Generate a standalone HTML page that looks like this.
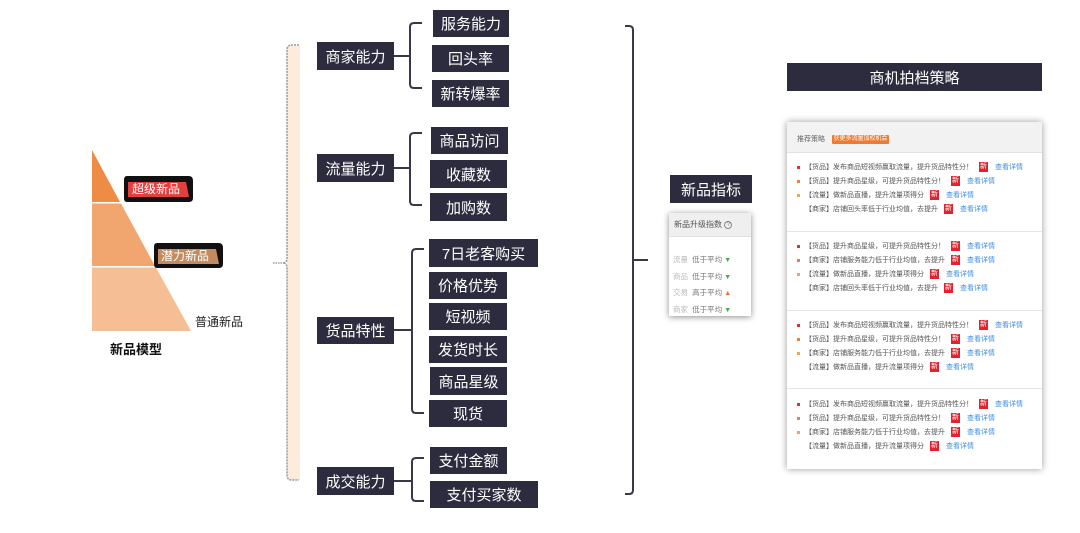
<!DOCTYPE html>
<html><head><meta charset="utf-8">
<style>
*{margin:0;padding:0;box-sizing:border-box}
body{width:1080px;height:533px;background:#fff;position:relative;overflow:hidden;font-family:"Liberation Sans","Noto Sans CJK SC",sans-serif}
.b{position:absolute;background:#2d2b3e;color:#fff;font-size:15px;display:flex;align-items:center;justify-content:center;white-space:nowrap;letter-spacing:0}
.t{position:absolute;white-space:nowrap}
.row{position:absolute;left:797px;height:12px;font-size:7px;color:#555;display:flex;align-items:center;white-space:nowrap}
.row .dot{width:3px;height:3px;margin-right:5px}
.row .nb{display:inline-block;width:9px;height:10px;background:#e3222d;color:#fff;font-size:7px;line-height:10px;text-align:center;margin:0 7px 0 6px}
.row .lk{color:#3d8ee6}
.div{position:absolute;left:787px;width:255px;height:1px;background:#e4e4e4}
</style></head><body>
<svg width="1080" height="533" style="position:absolute;left:0;top:0">
  <!-- pyramid -->
  <polygon points="92,150 120,202 92,202" fill="#ee8b45"/>
  <polygon points="92,203.5 121,203.5 155,266 92,266" fill="#f1a66f"/>
  <polygon points="92,267.5 156,267.5 191,331 92,331" fill="#f6be95"/>
  <!-- badge 1 -->
  <path d="M127,176 H189 Q193,176 193,181 V198 Q193,202 189,202 H127 Q124,202 124,198 V180 Q124,176 127,176 Z" fill="#111"/>
  <polygon points="128,182 186,182 189,197 128,197" fill="#e2403c"/>
  <!-- badge 2 -->
  <path d="M157,243 H219 Q223,243 223,248 V264 Q223,268 219,268 H157 Q154,268 154,264 V247 Q154,243 157,243 Z" fill="#111"/>
  <polygon points="158,249 216,249 219,264 158,264" fill="#c48c5c"/>
  <!-- root bracket -->
  <rect x="287" y="46" width="13" height="434" fill="#fdebdc"/>
  <path d="M299,45 H292 Q287,45 287,50 V258 Q287,263 283,263 Q287,263 287,268 V475 Q287,480 292,480 H299" fill="none" stroke="#9a9a9a" stroke-width="1.5" stroke-dasharray="2,1"/>
  <line x1="273" y1="263" x2="284" y2="263" stroke="#888" stroke-width="1.3" stroke-dasharray="1.5,1"/>
  <!-- sub brackets -->
  <g fill="none" stroke="#3a3848" stroke-width="2">
    <line x1="394" y1="56" x2="410" y2="56"/>
    <path d="M422,23 H414 Q410,23 410,27 V84 Q410,88 414,88 H422"/>
    <line x1="394" y1="168" x2="410" y2="168"/>
    <path d="M422,133 H414 Q410,133 410,137 V201 Q410,205 414,205 H422"/>
    <line x1="394" y1="330" x2="412" y2="330"/>
    <path d="M424,249 H416 Q412,249 412,253 V409 Q412,413 416,413 H424"/>
    <line x1="394" y1="481" x2="412" y2="481"/>
    <path d="M424,458 H416 Q412,458 412,462 V497 Q412,501 416,501 H424"/>
    <path d="M625,26 H629 Q633,26 633,30 V490 Q633,494 629,494 H625"/>
    <line x1="633" y1="260" x2="648" y2="260"/>
  </g>
</svg>

<div class="t" style="left:132px;top:181px;font-size:12px;color:#fff;line-height:16px">超级新品</div>
<div class="t" style="left:161px;top:248px;font-size:12px;color:#fff;line-height:16px">潜力新品</div>
<div class="t" style="left:195px;top:315px;font-size:12px;color:#222;line-height:14px">普通新品</div>
<div class="t" style="left:110px;top:342px;font-size:13px;font-weight:bold;color:#111;line-height:16px">新品模型</div>

<div class="b" style="left:317px;top:42px;width:77px;height:28px">商家能力</div>
<div class="b" style="left:317px;top:154px;width:77px;height:28px">流量能力</div>
<div class="b" style="left:317px;top:317px;width:77px;height:27px">货品特性</div>
<div class="b" style="left:317px;top:467px;width:77px;height:28px">成交能力</div>

<div class="b" style="left:433px;top:10px;width:76px;height:27px">服务能力</div>
<div class="b" style="left:432px;top:45px;width:77px;height:27px">回头率</div>
<div class="b" style="left:432px;top:80px;width:77px;height:27px">新转爆率</div>
<div class="b" style="left:431px;top:127px;width:77px;height:27px">商品访问</div>
<div class="b" style="left:430px;top:160px;width:77px;height:28px">收藏数</div>
<div class="b" style="left:430px;top:193px;width:77px;height:28px">加购数</div>
<div class="b" style="left:429px;top:239px;width:109px;height:28px">7日老客购买</div>
<div class="b" style="left:429px;top:272px;width:78px;height:27px">价格优势</div>
<div class="b" style="left:429px;top:303px;width:78px;height:27px">短视频</div>
<div class="b" style="left:429px;top:336px;width:78px;height:27px">发货时长</div>
<div class="b" style="left:430px;top:367px;width:77px;height:28px">商品星级</div>
<div class="b" style="left:429px;top:400px;width:78px;height:27px">现货</div>
<div class="b" style="left:430px;top:447px;width:77px;height:27px">支付金额</div>
<div class="b" style="left:430px;top:481px;width:108px;height:27px">支付买家数</div>

<div class="b" style="left:670px;top:175px;width:82px;height:28px">新品指标</div>
<div style="position:absolute;left:669px;top:213px;width:82px;height:103px;background:#fff;box-shadow:0 1px 6px rgba(0,0,0,.45)">
  <div style="height:24px;background:#efefef;border-bottom:1px solid #e2e2e2;font-size:8px;color:#555;padding-left:5px;line-height:24px;white-space:nowrap">新品升级指数 <span style="display:inline-block;width:8px;height:8px;border:1px solid #888;border-radius:50%;font-size:6px;line-height:6px;text-align:center;vertical-align:middle;color:#777">?</span></div>
  <div style="position:absolute;left:4px;top:39px;font-size:7.5px;line-height:15.5px;white-space:nowrap">
    <div><span style="color:#bbb">流量</span>&nbsp; <span style="color:#777">低于平均</span> <span style="color:#3bb043;font-size:7px">▼</span></div>
    <div><span style="color:#bbb">商品</span>&nbsp; <span style="color:#777">低于平均</span> <span style="color:#3bb043;font-size:7px">▼</span></div>
    <div><span style="color:#bbb">交易</span>&nbsp; <span style="color:#777">高于平均</span> <span style="color:#f07038;font-size:7px">▲</span></div>
    <div><span style="color:#bbb">商家</span>&nbsp; <span style="color:#777">低于平均</span> <span style="color:#3bb043;font-size:7px">▼</span></div>
  </div>
</div>

<div class="b" style="left:787px;top:63px;width:255px;height:28px">商机拍档策略</div>
<div style="position:absolute;left:787px;top:122px;width:255px;height:347px;background:#fff;box-shadow:0 0 7px rgba(0,0,0,.4)">
  <div style="height:31px;background:#f2f2f2;border-bottom:1px solid #e2e2e2;position:relative">
    <span style="position:absolute;left:10px;top:12px;font-size:7px;color:#666;white-space:nowrap">推荐策略</span>
    <span style="position:absolute;left:45px;top:13px;width:57px;height:9px;background:#f07a30;color:#fff;font-size:6px;line-height:9px;text-align:center;white-space:nowrap;border-radius:1px">获更多流量加权机会</span>
  </div>
</div>
<div class="div" style="top:231px"></div>
<div class="div" style="top:310px"></div>
<div class="div" style="top:388px"></div>

<!-- section 1 -->
<div class="row" style="top:161px"><span class="dot" style="background:#e03030"></span>【货品】发布商品短视频赢取流量，提升货品特性分！<span class="nb">新</span><span class="lk">查看详情</span></div>
<div class="row" style="top:175px"><span class="dot" style="background:#f07d3c"></span>【货品】提升商品星级，可提升货品特性分！<span class="nb">新</span><span class="lk">查看详情</span></div>
<div class="row" style="top:189px"><span class="dot" style="background:#f2a452"></span>【流量】做新品直播，提升流量项得分<span class="nb">新</span><span class="lk">查看详情</span></div>
<div class="row" style="top:203px"><span class="dot"></span>【商家】店铺回头率低于行业均值，去提升<span class="nb">新</span><span class="lk">查看详情</span></div>
<!-- section 2 -->
<div class="row" style="top:240px"><span class="dot" style="background:#e03030"></span>【货品】提升商品星级，可提升货品特性分！<span class="nb">新</span><span class="lk">查看详情</span></div>
<div class="row" style="top:254px"><span class="dot" style="background:#f07d3c"></span>【商家】店铺服务能力低于行业均值，去提升<span class="nb">新</span><span class="lk">查看详情</span></div>
<div class="row" style="top:268px"><span class="dot" style="background:#f2a452"></span>【流量】做新品直播，提升流量项得分<span class="nb">新</span><span class="lk">查看详情</span></div>
<div class="row" style="top:282px"><span class="dot"></span>【商家】店铺回头率低于行业均值，去提升<span class="nb">新</span><span class="lk">查看详情</span></div>
<!-- section 3 -->
<div class="row" style="top:319px"><span class="dot" style="background:#e03030"></span>【货品】发布商品短视频赢取流量，提升货品特性分！<span class="nb">新</span><span class="lk">查看详情</span></div>
<div class="row" style="top:333px"><span class="dot" style="background:#f07d3c"></span>【货品】提升商品星级，可提升货品特性分！<span class="nb">新</span><span class="lk">查看详情</span></div>
<div class="row" style="top:347px"><span class="dot" style="background:#f2a452"></span>【商家】店铺服务能力低于行业均值，去提升<span class="nb">新</span><span class="lk">查看详情</span></div>
<div class="row" style="top:361px"><span class="dot"></span>【流量】做新品直播，提升流量项得分<span class="nb">新</span><span class="lk">查看详情</span></div>
<!-- section 4 -->
<div class="row" style="top:398px"><span class="dot" style="background:#e03030"></span>【货品】发布商品短视频赢取流量，提升货品特性分！<span class="nb">新</span><span class="lk">查看详情</span></div>
<div class="row" style="top:412px"><span class="dot" style="background:#f07d3c"></span>【货品】提升商品星级，可提升货品特性分！<span class="nb">新</span><span class="lk">查看详情</span></div>
<div class="row" style="top:426px"><span class="dot" style="background:#f2a452"></span>【商家】店铺服务能力低于行业均值，去提升<span class="nb">新</span><span class="lk">查看详情</span></div>
<div class="row" style="top:440px"><span class="dot"></span>【流量】做新品直播，提升流量项得分<span class="nb">新</span><span class="lk">查看详情</span></div>
</body></html>
